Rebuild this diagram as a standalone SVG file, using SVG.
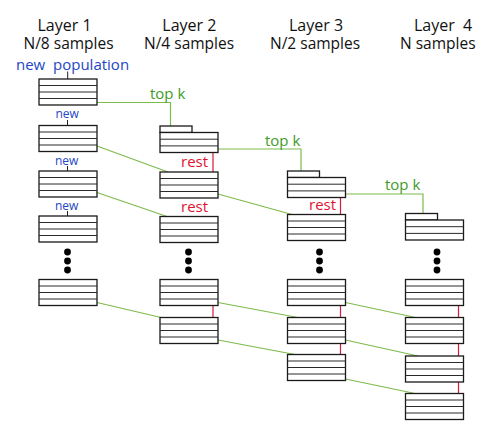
<svg xmlns="http://www.w3.org/2000/svg" xmlns:xlink="http://www.w3.org/1999/xlink" width="496" height="434" viewBox="0 0 496 434">
<style>
text{font-family:"Open Sans","Noto Sans","DejaVu Sans",sans-serif}
.hdr{font-size:16px;fill:#111}
.sub{font-size:15.5px;fill:#111}
.blue{fill:#2346c4}
.grn{fill:#3e9b1f;font-size:15px}
.red{fill:#e0132f;font-size:15px}
.box{fill:#fff;stroke:#1a1a1a;stroke-width:1.3}
.row{stroke:#2a2a2a;stroke-width:1;fill:none}
.gl{stroke:#7dbb4c;stroke-width:1.2;fill:none}
.rl{stroke:#d81a3c;stroke-width:1.2;fill:none}
.tick{stroke:#222;stroke-width:1}
.dot{fill:#000}
</style>
<defs>
<g id="stack">
<rect class="box" x="0" y="0" width="58" height="26"/>
<path class="row" d="M0 6.5H58M0 13H58M0 19.5H58"/>
</g>
<g id="topk">
<rect class="box" x="0" y="0" width="32" height="6.5"/>
<rect class="box" x="0" y="6.5" width="58" height="20"/>
<path class="row" d="M0 13.2H58M0 19.9H58"/>
</g>
</defs>

<g id="headers">
<text class="hdr" x="37.5" y="31">Layer 1</text>
<text class="sub" x="23.5" y="48.5">N/8 samples</text>
<text class="hdr" x="162.3" y="31">Layer 2</text>
<text class="sub" x="144" y="48.5">N/4 samples</text>
<text class="hdr" x="289" y="31">Layer 3</text>
<text class="sub" x="270" y="48.5">N/2 samples</text>
<text class="hdr" x="414" y="31" xml:space="preserve">Layer  4</text>
<text class="sub" x="400" y="48.5">N samples</text>
</g>

<g id="connectors">
<path class="gl" d="M97 102.5H170.5V126"/>
<path class="gl" d="M218 149H301V171.5"/>
<path class="gl" d="M345.5 194H423V213.5"/>
<path class="gl" d="M97 146L168 172"/>
<path class="gl" d="M97 192.5L167 216.5"/>
<path class="gl" d="M97 302.5L161 317.5"/>
<path class="gl" d="M218 194L292 214.5"/>
<path class="gl" d="M218 302.5L298 317.5"/>
<path class="gl" d="M218 340L295 354.5"/>
<path class="gl" d="M345.5 302.5L415.5 317.5"/>
<path class="gl" d="M345.5 340L418 356"/>
<path class="gl" d="M345.5 379L415 393.5"/>
<path class="rl" d="M213 152.5V172M213 305.5V317.5"/>
<path class="rl" d="M340.5 197.5V214.5M340.5 305.5V317.5M340.5 343.5V354.5"/>
<path class="rl" d="M458.5 305.5V317.5M458.5 343.5V356M458.5 382V393.5"/>
<path class="tick" d="M67.7 71.5V79M67.5 120V125.5M67.5 166V171M67.5 211V216"/>
</g>

<g id="labels">
<text class="blue" x="16" y="69.5" font-size="15" xml:space="preserve">new  population</text>
<text class="blue" x="55.5" y="118" font-size="12">new</text>
<text class="blue" x="55" y="164.5" font-size="12">new</text>
<text class="blue" x="55" y="210" font-size="12">new</text>
<text class="grn" x="150" y="98.5">top k</text>
<text class="grn" x="265" y="145.5">top k</text>
<text class="grn" x="385" y="190">top k</text>
<text class="red" x="181" y="166.5">rest</text>
<text class="red" x="181" y="211.5">rest</text>
<text class="red" x="309" y="210">rest</text>
</g>

<g id="L1-1"><use xlink:href="#stack" x="39" y="79"/></g>
<g id="L1-2"><use xlink:href="#stack" x="39" y="125.5"/></g>
<g id="L1-3"><use xlink:href="#stack" x="39" y="171"/></g>
<g id="L1-4"><use xlink:href="#stack" x="39" y="216"/></g>
<g id="L1-dots"><circle class="dot" cx="67.5" cy="252" r="3.4"/><circle class="dot" cx="67.5" cy="261" r="3.4"/><circle class="dot" cx="67.5" cy="270" r="3.4"/></g>
<g id="L1-5"><use xlink:href="#stack" x="39" y="279.5"/></g>

<g id="L2-1"><use xlink:href="#topk" x="160" y="126"/></g>
<g id="L2-2"><use xlink:href="#stack" x="160" y="172"/></g>
<g id="L2-3"><use xlink:href="#stack" x="160" y="216.5"/></g>
<g id="L2-dots"><circle class="dot" cx="188.5" cy="252" r="3.4"/><circle class="dot" cx="188.5" cy="261" r="3.4"/><circle class="dot" cx="188.5" cy="270" r="3.4"/></g>
<g id="L2-4"><use xlink:href="#stack" x="160" y="279.5"/></g>
<g id="L2-5"><use xlink:href="#stack" x="160" y="317.5"/></g>

<g id="L3-1"><use xlink:href="#topk" x="287.5" y="171"/></g>
<g id="L3-2"><use xlink:href="#stack" x="287.5" y="214.5"/></g>
<g id="L3-dots"><circle class="dot" cx="319.5" cy="252" r="3.4"/><circle class="dot" cx="319.5" cy="261" r="3.4"/><circle class="dot" cx="319.5" cy="270" r="3.4"/></g>
<g id="L3-3"><use xlink:href="#stack" x="287.5" y="279.5"/></g>
<g id="L3-4"><use xlink:href="#stack" x="287.5" y="317.5"/></g>
<g id="L3-5"><use xlink:href="#stack" x="287.5" y="354.5"/></g>

<g id="L4-1"><use xlink:href="#topk" x="405.5" y="213.5"/></g>
<g id="L4-dots"><circle class="dot" cx="437" cy="252" r="3.4"/><circle class="dot" cx="437" cy="261" r="3.4"/><circle class="dot" cx="437" cy="270" r="3.4"/></g>
<g id="L4-2"><use xlink:href="#stack" x="405.5" y="279.5"/></g>
<g id="L4-3"><use xlink:href="#stack" x="405.5" y="317.5"/></g>
<g id="L4-4"><use xlink:href="#stack" x="405.5" y="356"/></g>
<g id="L4-5"><use xlink:href="#stack" x="405.5" y="393.5"/></g>
</svg>
